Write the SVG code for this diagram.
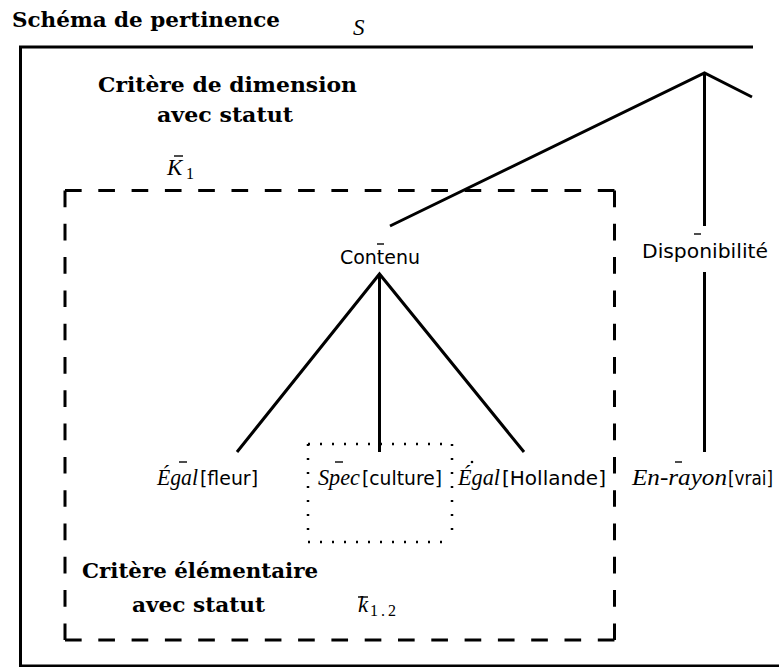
<svg xmlns="http://www.w3.org/2000/svg" width="779" height="667" viewBox="0 0 779 667">
<style>
.bold{font-family:"DejaVu Serif","Liberation Serif",serif;font-weight:bold;font-size:21px;fill:#000}
.sans{font-family:"DejaVu Sans","Liberation Sans",sans-serif;font-size:20px;fill:#000}
.it{font-family:"Liberation Serif",serif;font-style:italic;font-size:23px;fill:#000}
.rm{font-family:"Liberation Serif",serif;fill:#000}
.ln{stroke:#000;stroke-width:3;fill:none}
.dash{stroke:#000;stroke-width:3;stroke-dasharray:16.65 16.65;fill:none}
.doth{stroke:#000;stroke-width:2.5;stroke-dasharray:2 10;fill:none}
.dotv{stroke:#000;stroke-width:2.5;stroke-dasharray:2 12;fill:none}
.bar{stroke:#000;stroke-width:1.4;fill:none}
</style>
<rect width="779" height="667" fill="#fff"/>

<g id="frame-S">
  <path class="ln" d="M19 47 H753 M20.5 46 V667 M19 666 H779"/>
  <text class="bold" x="12" y="27" textLength="268" lengthAdjust="spacingAndGlyphs">Schéma de pertinence</text>
  <text class="it" x="353" y="35" font-size="24">S</text>
  <text class="bold" x="98" y="92" textLength="259" lengthAdjust="spacingAndGlyphs">Critère de dimension</text>
  <text class="bold" x="157" y="122" textLength="136" lengthAdjust="spacingAndGlyphs">avec statut</text>
</g>

<g id="frame-K1">
  <path class="dash" d="M65 190.5 H614.5"/>
  <path class="dash" d="M65 640 H614.5"/>
  <path class="dash" d="M65 190.5 V640"/>
  <path class="dash" d="M614.5 190.5 V640"/>
  <text class="it" x="167" y="175">K</text>
  <text class="rm" x="186" y="179" font-size="16">1</text>
  <line class="bar" x1="174" y1="156" x2="183" y2="156"/>
  <text class="bold" x="82" y="578" textLength="236" lengthAdjust="spacingAndGlyphs">Critère élémentaire</text>
  <text class="bold" x="132" y="612" textLength="133" lengthAdjust="spacingAndGlyphs">avec statut</text>
  <text class="it" x="358" y="612">k</text>
  <text class="rm" x="370" y="616" font-size="16" textLength="26" lengthAdjust="spacing">1.2</text>
  <line class="bar" x1="358" y1="597" x2="368" y2="597"/>
</g>

<g id="frame-k12">
  <path class="doth" d="M308 444 H452 M308 542 H452"/>
  <path class="dotv" d="M308 444 V542 M452 444 V542"/>
</g>

<g id="connectors">
  <path class="ln" d="M390 226 L704.5 73 L752 97 M704.5 73 V226"/>
  <path class="ln" d="M704.5 272 V452"/>
  <path class="ln" d="M237 452 L379.5 274 L524 452 M379.5 274 V452"/>
</g>

<g id="node-contenu">
  <text class="sans" x="340" y="264" textLength="80" lengthAdjust="spacingAndGlyphs">Contenu</text>
  <line class="bar" x1="377" y1="244" x2="384" y2="244"/>
</g>

<g id="node-disponibilite">
  <text class="sans" x="642" y="258" textLength="126" lengthAdjust="spacingAndGlyphs">Disponibilité</text>
  <line class="bar" x1="694" y1="234" x2="701" y2="234"/>
</g>

<g id="node-egal-fleur">
  <text class="it" x="157" y="485" textLength="41" lengthAdjust="spacingAndGlyphs">Égal</text>
  <text class="sans" x="200" y="485" textLength="58" lengthAdjust="spacingAndGlyphs">[fleur]</text>
  <line class="bar" x1="179" y1="462" x2="187" y2="462"/>
</g>

<g id="node-spec-culture">
  <text class="it" x="318" y="485" textLength="42" lengthAdjust="spacingAndGlyphs">Spec</text>
  <text class="sans" x="362" y="485" textLength="80" lengthAdjust="spacingAndGlyphs">[culture]</text>
  <line class="bar" x1="335" y1="462" x2="343" y2="462"/>
</g>

<g id="node-egal-hollande">
  <text class="it" x="458" y="485" textLength="42" lengthAdjust="spacingAndGlyphs">Égal</text>
  <text class="sans" x="502" y="485" textLength="104" lengthAdjust="spacingAndGlyphs">[Hollande]</text>
  <circle cx="472" cy="462" r="1.3" fill="#000"/>
</g>

<g id="node-en-rayon">
  <text class="it" x="632" y="485" textLength="95" lengthAdjust="spacingAndGlyphs">En-rayon</text>
  <text class="sans" x="728" y="485" textLength="45" lengthAdjust="spacingAndGlyphs">[vrai]</text>
  <line class="bar" x1="675" y1="462" x2="682" y2="462"/>
</g>
</svg>
